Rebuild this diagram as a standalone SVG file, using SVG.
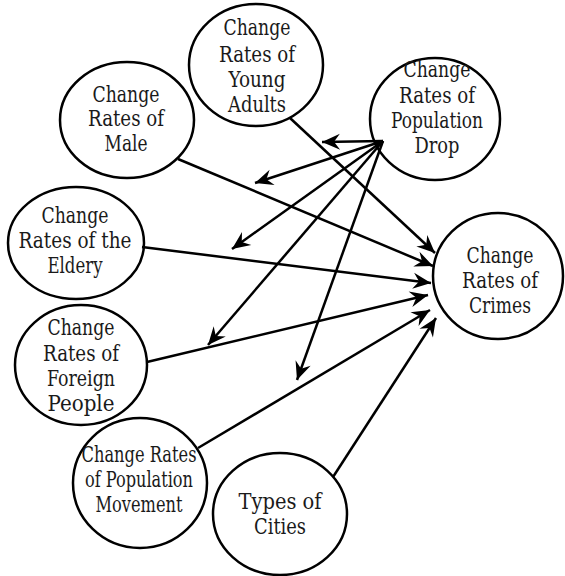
<svg xmlns="http://www.w3.org/2000/svg" width="565" height="576" viewBox="0 0 565 576">
<style>
.n{fill:#fff;stroke:#000;stroke-width:2.5}
.t{font-family:'DejaVu Serif Condensed','DejaVu Serif',serif;font-stretch:condensed;font-size:22px;fill:#1a1a1a;text-anchor:middle}
.c{stroke:#000;stroke-width:2.5;fill:none;marker-end:url(#ah)}
</style>
<defs>
<marker id="ah" markerUnits="userSpaceOnUse" markerWidth="24" markerHeight="20" viewBox="-20 -10 22 20" refX="0" refY="0" orient="auto">
<path d="M0,0 L-18,-8 L-12,0 L-18,8 Z" fill="#000"/>
</marker>
</defs>
<rect width="565" height="576" fill="#fff"/>
<g id="young"><ellipse class="n" cx="256" cy="65" rx="67" ry="61"/>
<text class="t" x="257" y="35" textLength="67" lengthAdjust="spacingAndGlyphs">Change</text><text class="t" x="257" y="62" textLength="76" lengthAdjust="spacingAndGlyphs">Rates of</text><text class="t" x="257" y="87" textLength="57" lengthAdjust="spacingAndGlyphs">Young</text><text class="t" x="257" y="112" textLength="58" lengthAdjust="spacingAndGlyphs">Adults</text></g>
<g id="drop"><ellipse class="n" cx="435" cy="119" rx="65" ry="61"/>
<text class="t" x="437" y="77" textLength="67" lengthAdjust="spacingAndGlyphs">Change</text><text class="t" x="437" y="103" textLength="76" lengthAdjust="spacingAndGlyphs">Rates of</text><text class="t" x="437" y="128" textLength="92" lengthAdjust="spacingAndGlyphs">Population</text><text class="t" x="437" y="153" textLength="45" lengthAdjust="spacingAndGlyphs">Drop</text></g>
<g id="male"><ellipse class="n" cx="127" cy="120" rx="67" ry="58"/>
<text class="t" x="126" y="102" textLength="67" lengthAdjust="spacingAndGlyphs">Change</text><text class="t" x="126" y="126" textLength="76" lengthAdjust="spacingAndGlyphs">Rates of</text><text class="t" x="126" y="151" textLength="43" lengthAdjust="spacingAndGlyphs">Male</text></g>
<g id="eldery"><ellipse class="n" cx="76" cy="243" rx="68" ry="56"/>
<text class="t" x="75" y="223" textLength="67" lengthAdjust="spacingAndGlyphs">Change</text><text class="t" x="75" y="248" textLength="113" lengthAdjust="spacingAndGlyphs">Rates of the</text><text class="t" x="75" y="273" textLength="55" lengthAdjust="spacingAndGlyphs">Eldery</text></g>
<g id="foreign"><ellipse class="n" cx="81" cy="365" rx="66" ry="60"/>
<text class="t" x="81" y="335" textLength="67" lengthAdjust="spacingAndGlyphs">Change</text><text class="t" x="81" y="361" textLength="76" lengthAdjust="spacingAndGlyphs">Rates of</text><text class="t" x="81" y="386" textLength="68" lengthAdjust="spacingAndGlyphs">Foreign</text><text class="t" x="81" y="411" textLength="67" lengthAdjust="spacingAndGlyphs">People</text></g>
<g id="movement"><ellipse class="n" cx="140" cy="483" rx="67" ry="65"/>
<text class="t" x="139" y="462" textLength="115" lengthAdjust="spacingAndGlyphs">Change Rates</text><text class="t" x="139" y="487" textLength="108" lengthAdjust="spacingAndGlyphs">of Population</text><text class="t" x="139" y="512" textLength="87" lengthAdjust="spacingAndGlyphs">Movement</text></g>
<g id="cities"><ellipse class="n" cx="280" cy="514" rx="67" ry="61"/>
<text class="t" x="280" y="509" textLength="83" lengthAdjust="spacingAndGlyphs">Types of</text><text class="t" x="280" y="534" textLength="52" lengthAdjust="spacingAndGlyphs">Cities</text></g>
<g id="crimes"><ellipse class="n" cx="498" cy="276" rx="65" ry="63"/>
<text class="t" x="500" y="263" textLength="67" lengthAdjust="spacingAndGlyphs">Change</text><text class="t" x="500" y="288" textLength="76" lengthAdjust="spacingAndGlyphs">Rates of</text><text class="t" x="500" y="313" textLength="62" lengthAdjust="spacingAndGlyphs">Crimes</text></g>
<g id="connectors">
<line class="c" x1="290" y1="118" x2="435" y2="253"/>
<line class="c" x1="178" y1="159" x2="433" y2="266"/>
<line class="c" x1="142" y1="247" x2="431" y2="283"/>
<line class="c" x1="147" y1="362" x2="428" y2="295"/>
<line class="c" x1="198" y1="448" x2="430" y2="310"/>
<line class="c" x1="333" y1="477" x2="436" y2="318"/>
<line class="c" x1="383" y1="141" x2="322" y2="142"/>
<line class="c" x1="383" y1="141" x2="255" y2="183"/>
<line class="c" x1="383" y1="141" x2="232" y2="249"/>
<line class="c" x1="383" y1="141" x2="208" y2="345"/>
<line class="c" x1="383" y1="141" x2="297" y2="380"/>
</g>
</svg>
